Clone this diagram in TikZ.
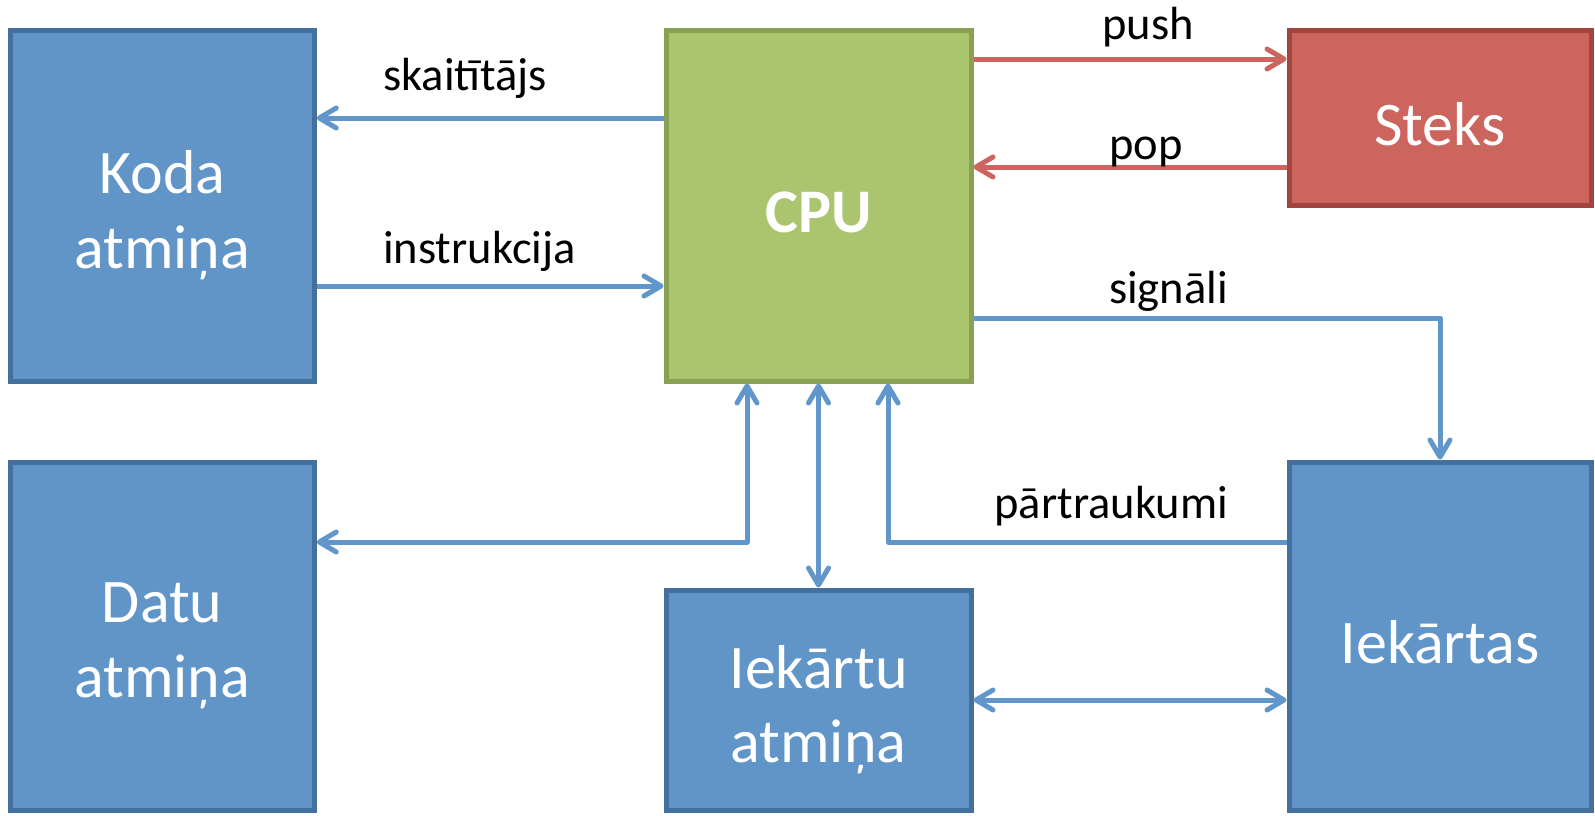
\documentclass[tikz,border=0pt]{standalone}
\usepackage{fontspec}
\setmainfont{Carlito}
\usetikzlibrary{arrows.meta}
\definecolor{bfill}{HTML}{6195C8}
\definecolor{bdraw}{HTML}{44709D}
\definecolor{gfill}{HTML}{ABC46E}
\definecolor{gdraw}{HTML}{88A153}
\definecolor{rfill}{HTML}{CD655F}
\definecolor{rdraw}{HTML}{A24540}
\definecolor{barrow}{HTML}{6096CA}
\definecolor{rarrow}{HTML}{CD645F}
\tikzset{
  barb/.tip={Straight Barb[length=17pt,width=20pt,line cap=round,line join=round]},
  boxbase/.style={rectangle, line width=5pt, inner sep=0pt},
  bluebox/.style={boxbase, fill=bfill, draw=bdraw},
  greenbox/.style={boxbase, fill=gfill, draw=gdraw},
  redbox/.style={boxbase, fill=rfill, draw=rdraw},
  boxtext/.style={text=white, font=\fontsize{62}{74.5}\selectfont, align=center, inner sep=0pt},
  lbl/.style={font=\fontsize{46.5}{56}\selectfont, inner sep=0pt, text=black},
  blueline/.style={line width=5pt, draw=barrow, line join=round},
  redline/.style={line width=5pt, draw=rarrow, line join=round},
}
\begin{document}
\begin{tikzpicture}[x=1pt,y=-1pt]
\useasboundingbox[fill=white] (0,0) rectangle (1595,815);
% boxes
\node[bluebox, minimum width=304pt, minimum height=351pt] (koda) at (162.25,205.5) {};
\node[greenbox, minimum width=305pt, minimum height=351pt] (cpu) at (818.5,205.5) {};
\node[redbox, minimum width=302pt, minimum height=175.5pt] (steks) at (1440,117.75) {};
\node[bluebox, minimum width=304pt, minimum height=348.5pt] (datu) at (162.25,636.25) {};
\node[bluebox, minimum width=305pt, minimum height=220.5pt] (iam) at (818.5,700.25) {};
\node[bluebox, minimum width=302pt, minimum height=348.5pt] (iek) at (1440,636.25) {};
% box texts
\node[boxtext] (kodaT) at (162.25,215) {Koda\\atmiņa};
\node[boxtext, font=\fontsize{62}{74.5}\selectfont\bfseries, anchor=base] (cpuT) at (818.5,232) {CPU};
\node[boxtext, anchor=base] (steksT) at (1440,145) {Steks};
\node[boxtext] (datuT) at (162.25,645.75) {Datu\\atmiņa};
\node[boxtext] (iamT) at (818.5,709.75) {Iekārtu\\atmiņa};
\node[boxtext, anchor=base] (iekT) at (1440,663) {Iekārtas};
% connectors
\draw[blueline, -barb] (cpu.west |- 0,118) -- (koda.east |- 0,118);
\draw[blueline, -barb] (koda.east |- 0,286) -- (cpu.west |- 0,286);
\draw[redline, -barb] (cpu.east |- 0,59) -- (steks.west |- 0,59);
\draw[redline, -barb] (steks.west |- 0,167) -- (cpu.east |- 0,167);
\draw[blueline, -barb] (cpu.east |- 0,318) -| (iek.north);
\draw[blueline, barb-barb] (datu.east |- 0,542) -| (cpu.south -| 747,0);
\draw[blueline, barb-barb] (cpu.south) -- (iam.north);
\draw[blueline, -barb] (iek.west |- 0,542) -| (cpu.south -| 888,0);
\draw[blueline, barb-barb] (iam.east |- 0,700) -- (iek.west |- 0,700);
% labels
\node[lbl, anchor=base west] (l1) at (383,90) {skaitītājs};
\node[lbl, anchor=base west] (l2) at (383,263) {instrukcija};
\node[lbl, anchor=base] (l3) at (1148,39) {push};
\node[lbl, anchor=base] (l4) at (1146,159) {pop};
\node[lbl, anchor=base east] (l5) at (1228,303) {signāli};
\node[lbl, anchor=base east] (l6) at (1228,518) {pārtraukumi};
\end{tikzpicture}
\end{document}
